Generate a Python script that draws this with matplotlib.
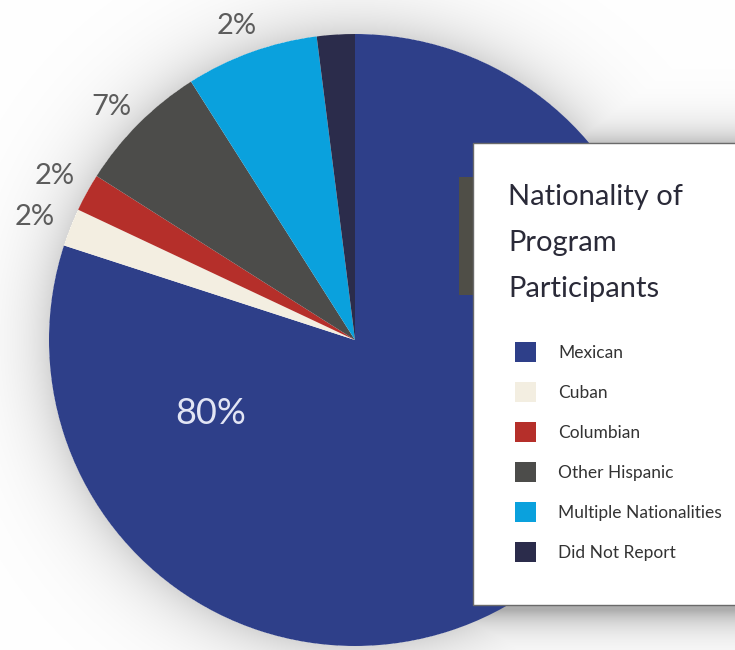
import numpy as np
import matplotlib.pyplot as plt
from matplotlib.patches import Rectangle

# Shares of program participants by nationality (percent)
categories = ["Mexican", "Cuban", "Columbian", "Other Hispanic",
              "Multiple Nationalities", "Did Not Report"]
shares = [80, 2, 2, 7, 7, 2]
colors = ["#2e3f89", "#f3eee1", "#b52f2a", "#4c4c4a", "#0aa1dd", "#2b2c4b"]
title_lines = ["Nationality of", "Program", "Participants"]

# Placement of the percentage labels (pixel coordinates, y downwards)
label_pos = {
    "Mexican": (211, 414),
    "Cuban": (35, 217),
    "Columbian": (55, 176),
    "Other Hispanic": (111, 107),
    "Did Not Report": (237, 26),
}

W, H = 735, 650
CX, CY, R = 355, 340, 306


def Y(y):
    return H - y


fig = plt.figure(figsize=(W / 100, H / 100), dpi=100)
ax = fig.add_axes([0, 0, 1, 1])

# soft halo around the pie and the legend panel
yy, xx = np.mgrid[0:H, 0:W] + 0.5
d = np.hypot(xx - CX, yy - CY) - R
shade = np.where(d > 0, 0.16 * np.exp(-np.clip(d, 0, None) / 30), 0.0)
bx0, bx1, by0, by1 = 476, 780, 148, 610
dx = np.maximum(np.maximum(bx0 - xx, 0), xx - bx1)
dy = np.maximum(np.maximum(by0 - yy, 0), yy - by1)
db = np.hypot(dx, dy)
shade = np.maximum(shade, 0.32 * np.exp(-db / 18))
img = np.dstack([1 - shade] * 3)
ax.imshow(img, extent=(0, W, 0, H), origin="upper", zorder=0,
          interpolation="bilinear")

wedges, _ = ax.pie(shares, colors=colors, startangle=90, counterclock=False,
                   center=(CX, Y(CY)), radius=R, frame=True,
                   wedgeprops=dict(linewidth=0))
for w in wedges:
    w.set_zorder(1)

ax.set_xlim(0, W)
ax.set_ylim(0, H)
ax.set_aspect("equal")
ax.axis("off")

# percentage labels
for cat, val in zip(categories, shares):
    if cat not in label_pos:
        continue
    x, y = label_pos[cat]
    inside = cat == "Mexican"
    ax.text(x, Y(y), f"{val}%", ha="center", va="center",
            fontsize=26 if inside else 21, family="Lato", fontweight="normal",
            color="#e2e5f4" if inside else "#5c5c5c", zorder=3)

# legend panel
ax.add_patch(Rectangle((459, Y(295)), 14, 295 - 177, facecolor="#4f4e47",
                       edgecolor="none", zorder=4))
ax.add_patch(Rectangle((473, Y(605)), 300, 605 - 143, facecolor="white",
                       edgecolor="#6a6a6a", linewidth=1.0, zorder=5))

for i, line in enumerate(title_lines):
    ax.text(508, Y(205 + 46 * i), line, ha="left", va="baseline",
            fontsize=21, family="Lato", color="#2a2a38", zorder=6)

for i, (cat, col) in enumerate(zip(categories, colors)):
    cy = 352 + 40 * i
    ax.add_patch(Rectangle((515, Y(cy) - 10), 21, 20, facecolor=col,
                           edgecolor="none", zorder=6))
    ax.text(558, Y(cy + 6), cat, ha="left", va="baseline", fontsize=12.5,
            family="Lato", color="#333333", zorder=6)

fig.savefig("out.png", dpi=100)
